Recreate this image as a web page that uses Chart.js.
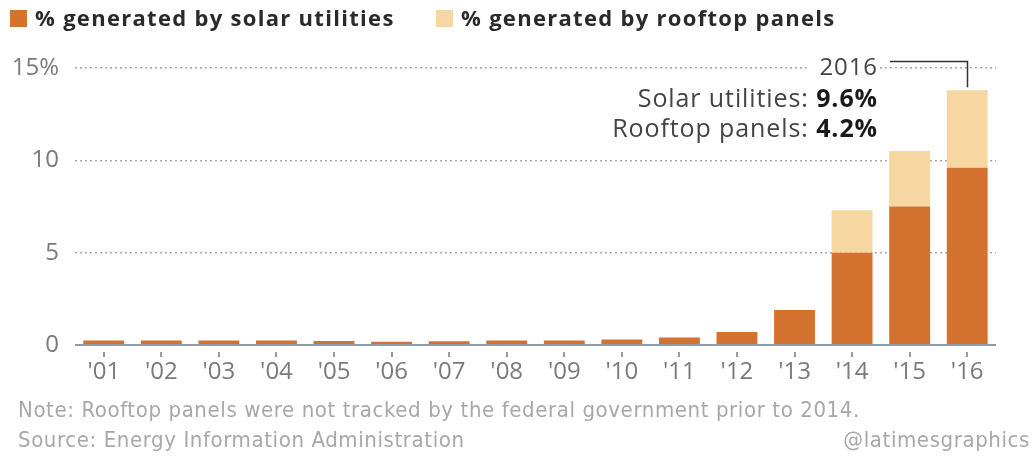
<!DOCTYPE html>
<html>
<head>
<meta charset="utf-8">
<script src="https://cdn.jsdelivr.net/npm/chart.js@4/dist/chart.umd.min.js"></script>
<style>
  html, body { margin: 0; padding: 0; background: #fff; }
  #wrap { position: relative; width: 1034px; height: 460px; overflow: hidden; font-family: "Open Sans", "Lato", sans-serif; }
  #chart { position: absolute; left: 0; top: 0; }
  .legend { position: absolute; top: 2px; font-weight: bold; font-size: 22px; letter-spacing: 1.3px; color: #2a2a2a; white-space: nowrap; }
  .legend i { display: inline-block; width: 17px; height: 17px; vertical-align: -1px; margin-right: 8px; }
  .anno { position: absolute; right: 156px; text-align: right; white-space: nowrap; color: #444; font-size: 25px; letter-spacing: 0.9px; line-height: 30px; }
  .anno b { color: #1a1a1a; }
  .foot { position: absolute; font-family: "DejaVu Sans Condensed", "Liberation Sans Narrow", sans-serif; color: #a8a8a8; font-size: 22px; letter-spacing: 0.6px; white-space: nowrap; }
</style>
</head>
<body>
<div id="wrap">
  <canvas id="chart" width="1034" height="460"></canvas>
  <div class="legend" style="left:10px"><i style="background:#d2722e"></i>% generated by solar utilities</div>
  <div class="legend" style="left:436px"><i style="background:#f6d7a2"></i>% generated by rooftop panels</div>
  <div class="anno" style="top:51px; font-size:24px; background:#fff; padding-left:10px;">2016</div>
  <div class="anno" style="top:82px;">Solar utilities: <b>9.6%</b></div>
  <div class="anno" style="top:112px;">Rooftop panels: <b>4.2%</b></div>
  <div class="foot" style="left:18px; top:397px;">Note: Rooftop panels were not tracked by the federal government prior to 2014.</div>
  <div class="foot" style="left:18px; top:427px;">Source: Energy Information Administration</div>
  <div class="foot" style="right:4px; top:427px;">@latimesgraphics</div>
</div>
<script>
const years = ["'01", "'02", "'03", "'04", "'05", "'06", "'07", "'08", "'09", "'10", "'11", "'12", "'13", "'14", "'15", "'16"];
const solarUtilities = [0.25, 0.25, 0.25, 0.25, 0.22, 0.18, 0.2, 0.25, 0.25, 0.3, 0.4, 0.7, 1.9, 5.0, 7.5, 9.6];
const rooftopPanels = [null, null, null, null, null, null, null, null, null, null, null, null, null, 2.3, 3.0, 4.2];
const yTicks = [0, 5, 10, 15];

// axis line, small tick marks under it, and the 2016 callout connector
const extras = {
  id: "extras",
  afterDatasetsDraw(chart) {
    const { ctx, chartArea, scales: { x, y } } = chart;
    const y0 = y.getPixelForValue(0);
    ctx.save();
    ctx.strokeStyle = "#8d9cab";
    ctx.lineWidth = 2;
    ctx.beginPath();
    ctx.moveTo(chartArea.left, y0);
    ctx.lineTo(chartArea.right, y0);
    ctx.stroke();

    ctx.strokeStyle = "#9a9a9a";
    ctx.lineWidth = 2;
    years.forEach((_, i) => {
      const px = Math.round(x.getPixelForTick(i));
      ctx.beginPath();
      ctx.moveTo(px, y0 + 7);
      ctx.lineTo(px, y0 + 12);
      ctx.stroke();
    });

    const last = years.length - 1;
    const bx = Math.round(x.getPixelForValue(last)) + 0.5;
    const topY = Math.round(y.getPixelForValue(15)) - 6.5;
    const barTop = y.getPixelForValue(solarUtilities[last] + rooftopPanels[last]);
    ctx.strokeStyle = "#333";
    ctx.lineWidth = 1.5;
    ctx.beginPath();
    ctx.moveTo(890, topY);
    ctx.lineTo(bx, topY);
    ctx.lineTo(bx, barTop - 3);
    ctx.stroke();
    ctx.restore();
  }
};

new Chart(document.getElementById("chart"), {
  type: "bar",
  data: {
    labels: years,
    datasets: [
      { label: "% generated by solar utilities", data: solarUtilities, backgroundColor: "#d2722e" },
      { label: "% generated by rooftop panels", data: rooftopPanels, backgroundColor: "#f6d7a2" }
    ]
  },
  plugins: [extras],
  options: {
    responsive: false,
    animation: false,
    layout: { padding: { top: 68, right: 38, left: 0, bottom: 0 } },
    plugins: { legend: { display: false }, tooltip: { enabled: false } },
    datasets: { bar: { categoryPercentage: 1, barPercentage: 0.71, borderWidth: 0 } },
    scales: {
      x: {
        stacked: true,
        grid: { display: false, drawTicks: false },
        border: { display: false },
        ticks: { color: "#7a7a7a", font: { family: "Open Sans", size: 24 }, padding: 13, maxRotation: 0, autoSkip: false },
        afterFit(scale) { scale.height = 115; }
      },
      y: {
        stacked: true,
        min: 0,
        max: 15,
        afterBuildTicks(scale) { scale.ticks = yTicks.map(v => ({ value: v })); },
        afterFit(scale) { scale.width = 75; },
        grid: {
          color: c => (c.tick && c.tick.value === 0 ? "rgba(0,0,0,0)" : "#a9a9a9"),
          lineWidth: 1.5,
          drawTicks: false
        },
        border: { display: false, dash: [2, 3] },
        ticks: {
          color: "#7a7a7a",
          font: { family: "Open Sans", size: 24 },
          padding: 16,
          callback: v => (v === 15 ? "15%" : String(v))
        }
      }
    }
  }
});
</script>
</body>
</html>
